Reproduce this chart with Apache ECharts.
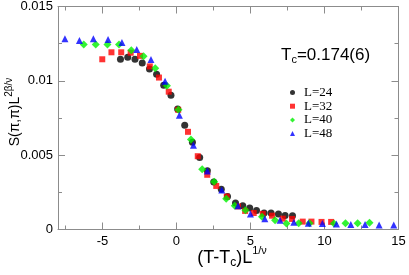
<!DOCTYPE html>
<html>
<head>
<meta charset="utf-8">
<script src="https://cdn.jsdelivr.net/npm/echarts@6/dist/echarts.min.js"></script>
<style>
  html, body { margin: 0; padding: 0; background: #fff; }
  #chart { width: 409px; height: 275px; }
</style>
</head>
<body>
<div id="chart"></div>
<script>
// ---- data ----
const seriesNames = ['L=24', 'L=32', 'L=40', 'L=48'];

const L24 = [
  [-3.78, 0.01145], [-3.29, 0.01158], [-2.80, 0.01145], [-2.31, 0.0112], [-1.82, 0.0108],
  [-1.34, 0.01045], [-0.86, 0.0097], [-0.37, 0.00903], [0.08, 0.0081], [0.56, 0.00701],
  [1.08, 0.00587], [1.57, 0.00485], [2.09, 0.00395], [2.52, 0.0032], [3.03, 0.0027],
  [3.45, 0.00222], [3.99, 0.00178], [4.48, 0.0016], [4.95, 0.00145], [5.41, 0.00127],
  [5.92, 0.00111], [6.39, 0.00111], [6.89, 0.00105], [7.34, 0.00095], [7.84, 0.00092]
];
const L32 = [
  [-5.01, 0.01145], [-4.39, 0.01192], [-3.73, 0.01192], [-3.09, 0.01189], [-2.46, 0.01168],
  [-1.80, 0.01097], [-1.18, 0.01022], [-0.52, 0.00927], [0.12, 0.00805], [0.78, 0.00657],
  [1.44, 0.00493], [2.08, 0.00368], [2.69, 0.00293], [3.40, 0.00222], [4.16, 0.00155],
  [4.64, 0.00125], [5.22, 0.00111], [5.83, 0.00105], [6.46, 0.00093], [7.18, 0.00073],
  [7.81, 0.00071], [8.53, 0.00053], [9.12, 0.00053], [9.80, 0.00051], [10.45, 0.00051]
];
const L40 = [
  [-6.26, 0.01245], [-5.45, 0.01245], [-4.66, 0.01245], [-3.88, 0.01245], [-3.05, 0.01205],
  [-2.22, 0.01165], [-1.43, 0.01085], [-0.64, 0.00967], [0.14, 0.00805], [0.98, 0.00605],
  [1.74, 0.00405], [2.55, 0.00322], [3.36, 0.00207], [3.94, 0.0016], [4.66, 0.00129],
  [5.78, 0.00085], [6.66, 0.00062], [7.43, 0.0004], [8.26, 0.00042], [8.99, 0.00042],
  [10.64, 0.0004], [11.42, 0.00042], [12.24, 0.00042], [13.04, 0.00045]
];
const L48 = [
  [-7.53, 0.01283], [-6.55, 0.01271], [-5.61, 0.01283], [-4.62, 0.01278], [-3.68, 0.01258],
  [-2.68, 0.01211], [-1.72, 0.01143], [-0.77, 0.00997], [0.20, 0.00768], [1.15, 0.00567],
  [2.09, 0.00393], [3.06, 0.00265], [4.16, 0.0016], [5.00, 0.00105], [5.97, 0.00073],
  [7.00, 0.00062], [7.93, 0.00048], [8.91, 0.00042], [9.86, 0.00041], [10.81, 0.00037],
  [11.78, 0.00033], [12.74, 0.00033], [13.69, 0.0003], [14.68, 0.0003]
];

const xMajorTicks = [-5, 0, 5, 10, 15];
const xMinorTicks = [-7.5, -2.5, 2.5, 7.5, 12.5];
const yTickLabels = ['0', '0.005', '0.01', '0.015'];
const titleParts = ['T', 'c', '=0.174(6)'];

// ---- chart ----
const chart = echarts.init(document.getElementById('chart'), null, { renderer: 'canvas' });
const axisGray = '#8c8c8c';
const sans = 'Liberation Sans, Arial, sans-serif';
const serif = 'Liberation Serif, Times New Roman, serif';

function xAxisDef(position, ticks, len, showLabel, showLine) {
  return {
    type: 'value', min: -8, max: 15, position: position,
    axisLine: { show: showLine, onZero: false, lineStyle: { color: axisGray, width: 1 } },
    axisTick: { show: true, inside: true, length: len, customValues: ticks, lineStyle: { color: axisGray } },
    axisLabel: { show: showLabel, customValues: ticks, color: '#000', fontSize: 13, fontFamily: sans, margin: 5 },
    splitLine: { show: false }
  };
}
function yAxisDef(position, showLabel) {
  return {
    type: 'value', min: 0, max: 0.015, interval: 0.005, position: position,
    axisLine: { show: true, onZero: false, lineStyle: { color: axisGray, width: 1 } },
    axisTick: { show: true, inside: true, length: 7, lineStyle: { color: axisGray } },
    minorTick: { show: true, splitNumber: 2, length: 4, lineStyle: { color: axisGray } },
    axisLabel: { show: showLabel, color: '#000', fontSize: 13, fontFamily: sans, margin: 5,
      formatter: function (v) { return yTickLabels[Math.round(v / 0.005)]; } },
    splitLine: { show: false }
  };
}

const colors = ['#000000', '#ff0000', '#00f000', '#0000ff'];
const symbols = ['circle', 'rect', 'diamond', 'triangle'];
const sizes = [7, 6, 8, 7];
const datasets = [L24, L32, L40, L48];

chart.setOption({
  animation: false,
  backgroundColor: '#fff',
  grid: { left: 58, right: 10.5, top: 5, bottom: 45.5, containLabel: false },
  xAxis: [
    xAxisDef('bottom', xMajorTicks, 7, true, true),
    xAxisDef('bottom', xMinorTicks, 4, false, false),
    xAxisDef('top', xMajorTicks, 7, false, true),
    xAxisDef('top', xMinorTicks, 4, false, false)
  ],
  yAxis: [
    yAxisDef('left', true),
    yAxisDef('right', false)
  ],
  legend: {
    orient: 'vertical', left: 285, top: 81,
    itemWidth: 5, itemHeight: 5, itemGap: 0.7,
    textStyle: { fontFamily: serif, fontSize: 13, color: '#000', lineHeight: 12, padding: [0, 0, 0, 4] },
    data: seriesNames.map(function (n, i) { return { name: n, icon: symbols[i] }; })
  },
  graphic: [
    {
      type: 'text', left: 281, top: 47,
      style: {
        text: '{a|' + titleParts[0] + '}{b|' + titleParts[1] + '}{a|' + titleParts[2] + '}',
        rich: {
          a: { fontSize: 17, fontFamily: sans, fill: '#000' },
          b: { fontSize: 11, fontFamily: sans, fill: '#000', padding: [9, 0, 0, 0] }
        }
      }
    },
    {
      type: 'text', x: 232, y: 258,
      style: {
        text: '{a|(T-T}{b|c}{a|)L}{s|1/ν}',
        align: 'center', verticalAlign: 'middle',
        rich: {
          a: { fontSize: 18, fontFamily: sans, fill: '#000' },
          b: { fontSize: 12, fontFamily: sans, fill: '#000', padding: [10, 0, 0, 0] },
          s: { fontSize: 11, fontFamily: sans, fill: '#000', padding: [0, 0, 14, 0] }
        }
      }
    },
    {
      type: 'text', x: 15, y: 112, rotation: Math.PI / 2,
      style: {
        text: '{a|S(π,π)L}{s|2β/ν}',
        align: 'center', verticalAlign: 'middle',
        rich: {
          a: { fontSize: 14, fontFamily: sans, fill: '#000' },
          s: { fontSize: 10, fontFamily: sans, fill: '#000', padding: [0, 0, 11, 0] }
        }
      }
    }
  ],
  series: datasets.map(function (d, i) {
    return {
      name: seriesNames[i], type: 'scatter', xAxisIndex: 0, yAxisIndex: 0,
      symbol: symbols[i], symbolSize: sizes[i],
      itemStyle: { color: colors[i] },
      data: d
    };
  })
});
</script>
</body>
</html>
